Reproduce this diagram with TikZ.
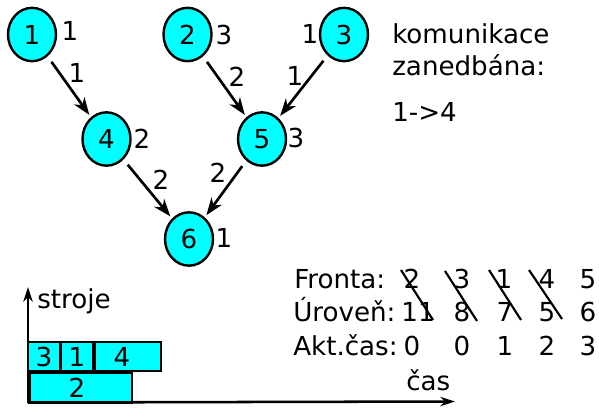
\documentclass[tikz,border=0pt]{standalone}
\usepackage{fontspec}
\setmainfont{DejaVu Sans}
\usetikzlibrary{arrows.meta,shapes.geometric}
\definecolor{cy}{RGB}{0,255,255}
\begin{document}
\begin{tikzpicture}[x=0.75pt,y=-0.75pt,
  font=\fontsize{19.6}{23}\selectfont,
  task/.style={ellipse,draw,line width=1.8pt,fill=cy,minimum width=36pt,minimum height=40pt,inner sep=0pt},
  txt/.style={inner sep=0pt,anchor=base},
  txtl/.style={inner sep=0pt,anchor=base west},
  arr/.style={line width=2pt,-{Stealth[length=13pt,width=9.5pt,inset=4pt]},shorten <=5pt,shorten >=2pt},
  box/.style={draw,line width=1.5pt,fill=cy},
  strike/.style={line width=1.6pt},
  axis/.style={line width=1.9pt,-{Stealth[length=11pt,width=7pt,inset=3.5pt]}}]
\useasboundingbox (0,0) rectangle (599,407);
% tasks
\node[task] (n1) at (32,34.5) {1};
\node[task] (n2) at (187.5,34.5) {2};
\node[task] (n3) at (344,34.5) {3};
\node[task] (n4) at (106.5,139) {4};
\node[task] (n5) at (262,139) {5};
\node[task] (n6) at (189,239) {6};
% task weights
\node[txt] (w1) at (70,40) {1};
\node[txt] (w2) at (224,44) {3};
\node[txt] (w3) at (310,43) {1};
\node[txt] (w4) at (142,148) {2};
\node[txt] (w5) at (296,147) {3};
\node[txt] (w6) at (224,247) {1};
% edges
\draw[arr] (n1) -- (n4);
\draw[arr] (n2) -- (n5);
\draw[arr] (n3) -- (n5);
\draw[arr] (n4) -- (n6);
\draw[arr] (n5) -- (n6);
% edge weights
\node[txt] (e14) at (77,82) {1};
\node[txt] (e25) at (237,86) {2};
\node[txt] (e35) at (295,85) {1};
\node[txt] (e46) at (161,189) {2};
\node[txt] (e56) at (218,182) {2};
% note
\node[txtl] (k1) at (392,43) {komunikace};
\node[txtl] (k2) at (392,75) {zanedbána:};
\node[txtl] (k3) at (392,121) {1->4};
% table
\node[txtl] (lf) at (294,288) {Fronta:};
\node[txtl] (lu) at (293,321) {Úroveň:};
\node[txtl] (la) at (293,355) {Akt.čas:};
\foreach \x/\v [count=\i] in {412/2,462/3,504/1,547/4,588/5} \node[txt] (f\i) at (\x,288) {\v};
\foreach \x/\v [count=\i] in {418/11,462/8,505/7,547/5,588/6} \node[txt] (u\i) at (\x,321) {\v};
\foreach \x/\v [count=\i] in {412/0,462/0,505/1,547/2,588/3} \node[txt] (a\i) at (\x,355) {\v};
\draw[strike] (401,270) -- (433,320);
\draw[strike] (445,271) -- (477,321);
\draw[strike] (489,270) -- (521,320);
\draw[strike] (529,270) -- (562,319);
% gantt
\draw[box] (28,342) rectangle (60,371);
\draw[box] (61,342) rectangle (93,371);
\draw[box] (95,342) rectangle (161,371);
\draw[box] (30,373) rectangle (132,403);
\node[txt] (b3) at (44,366) {3};
\node[txt] (b1) at (77,366) {1};
\node[txt] (b4) at (122,366) {4};
\node[txt] (b2) at (77,397) {2};
\coordinate (o) at (28,402.5);
\coordinate (ytop) at (28,287);
\coordinate (xend) at (455,401.5);
\draw[axis] (o) -- (ytop);
\draw[axis] (o) -- (xend);
\node[txtl] (ls) at (37,308) {stroje};
\node[txtl] (lc) at (406,390) {čas};
\end{tikzpicture}
\end{document}
